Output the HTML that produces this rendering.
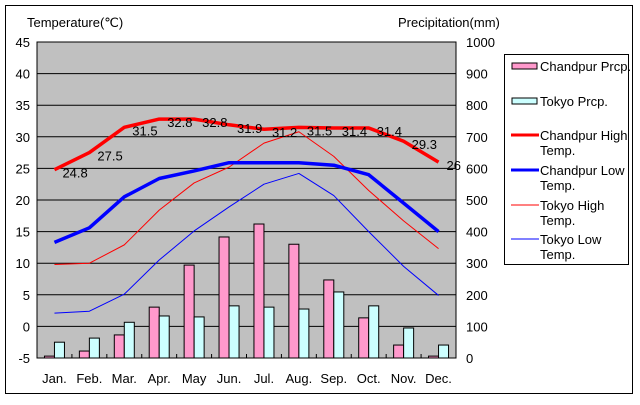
<!DOCTYPE html>
<html><head><meta charset="utf-8"><style>
body{margin:0;background:#fff}
svg text{font-family:"Liberation Sans",sans-serif;font-size:13px;fill:#000}
</style></head><body>
<svg id="c" width="640" height="400" xmlns="http://www.w3.org/2000/svg"></svg>
<script>
const months=["Jan.","Feb.","Mar.","Apr.","May","Jun.","Jul.","Aug.","Sep.","Oct.","Nov.","Dec."];
const chandpurPrcp=[6,22,73,161,294,383,424,360,247,127,41,6];
const tokyoPrcp=[50,63,113,133,130,165,161,155,209,165,95,41];
const chandpurHigh=[24.8,27.5,31.5,32.8,32.8,31.9,31.2,31.5,31.4,31.4,29.3,26];
const chandpurLow=[13.3,15.6,20.5,23.4,24.6,25.9,25.9,25.9,25.5,24,19.5,15];
const tokyoHigh=[9.8,10,12.9,18.4,22.7,25.2,29,30.8,26.9,21.5,16.7,12.3];
const tokyoLow=[2.1,2.4,5.1,10.5,15.1,18.9,22.5,24.2,20.7,15,9.5,4.9];
const tempTicks=[-5,0,5,10,15,20,25,30,35,40,45];
const prcpTicks=[0,100,200,300,400,500,600,700,800,900,1000];
const S="http://www.w3.org/2000/svg",svg=document.getElementById('c');
const L=37,R=456,T=42,B=358,bw=(R-L)/12;
const yT=v=>B-(v+5)/50*(B-T), yP=v=>B-v/1000*(B-T), xC=i=>L+bw*(i+0.5);
function el(t,a,p){const e=document.createElementNS(S,t);for(const k in a)e.setAttribute(k,a[k]);(p||svg).appendChild(e);return e;}
let e;
e=el('rect',{x:5.5,y:5.5,width:627,height:388,fill:'#fff',stroke:'#000'});

e=el('rect',{x:L,y:T,width:R-L,height:B-T,fill:'#c0c0c0',stroke:'#000'});

tempTicks.forEach((v,i)=>{const y=yT(v);
 if(i>0&&i<tempTicks.length-1){e=el('line',{x1:L,x2:R,y1:y,y2:y,stroke:'#000'});}
 e=el('text',{x:30,y:y+5,'text-anchor':'end'});e.textContent=v;
 });
prcpTicks.forEach(v=>{const y=yP(v);
 e=el('text',{x:466,y:y+5});e.textContent=v;
 });
months.forEach((m,i)=>{
 e=el('line',{x1:L+bw*i,x2:L+bw*i,y1:B,y2:B-4,stroke:'#000'});
 e=el('text',{x:xC(i),y:383,'text-anchor':'middle'});e.textContent=m;
 
 const w=10;
 e=el('rect',{x:xC(i)-w,y:yP(chandpurPrcp[i]),width:w,height:B-yP(chandpurPrcp[i]),fill:'#ff99cc',stroke:'#000'});
 
 e=el('rect',{x:xC(i),y:yP(tokyoPrcp[i]),width:w,height:B-yP(tokyoPrcp[i]),fill:'#ccffff',stroke:'#000'});
 
});
function line(arr,col,w,name){
 e=el('polyline',{points:arr.map((v,i)=>xC(i)+','+yT(v)).join(' '),fill:'none',stroke:col,'stroke-width':w,'stroke-linejoin':'round'});
 }
line(tokyoHigh,'#ff0000',1,'tokyo-high-line');
line(tokyoLow,'#0000ff',1,'tokyo-low-line');
line(chandpurLow,'#0000ff',3.5,'chandpur-low-line');
line(chandpurHigh,'#ff0000',3.5,'chandpur-high-line');
chandpurHigh.forEach((v,i)=>{e=el('text',{x:xC(i)+8,y:yT(v)+8,'font-size':'14'});e.textContent=v.toFixed(1).replace(/\.0$/,i==0?'.0':'');
 if(i==11)e.textContent='26';
 });
e=el('text',{x:27,y:27});e.textContent='Temperature(℃)';
e=el('text',{x:398,y:27});e.textContent='Precipitation(mm)';
const g=el('g',{});
el('rect',{x:504.5,y:54.5,width:124,height:210,fill:'#fff',stroke:'#000'},g);
const items=[['Chandpur Prcp.',null,'#ff99cc','box',66],['Tokyo Prcp.',null,'#ccffff','box',101],['Chandpur High','Temp.','#ff0000',3,135],['Chandpur Low','Temp.','#0000ff',3,170],['Tokyo High','Temp.','#ff0000',1,205],['Tokyo Low','Temp.','#0000ff',1,239]];
items.forEach(it=>{const y=it[4];
 if(it[3]==='box')el('rect',{x:512,y:y-3,width:25,height:6,fill:it[2],stroke:'#000'},g);
 else el('line',{x1:511,x2:539,y1:y,y2:y,stroke:it[2],'stroke-width':it[3]},g);
 e=el('text',{x:540,y:y+5,'font-size':'12'},g);e.textContent=it[0];
 if(it[1]){e=el('text',{x:540,y:y+20,'font-size':'12'},g);e.textContent=it[1];}
});
</script>
</body></html>
